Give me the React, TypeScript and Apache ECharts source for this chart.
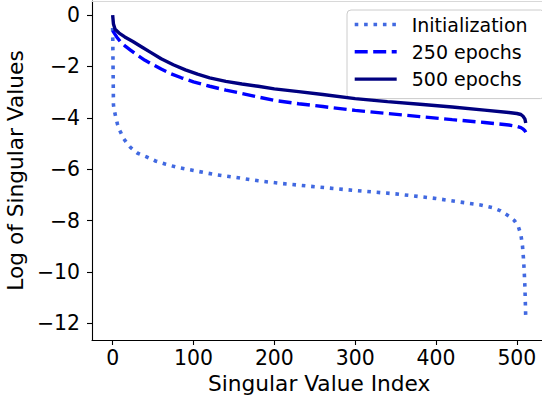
import React, { useEffect, useRef } from "react";
import * as echarts from "echarts";

const xTicks = [0, 100, 200, 300, 400, 500];
const yTicks = [-12, -10, -8, -6, -4, -2, 0];

const initIdx = [0, 1, 2, 4, 6, 9, 13, 18, 22, 31, 42, 53, 65, 80, 100, 125, 150, 180, 210, 250, 300, 350, 400, 430, 455, 470, 480, 490, 497, 502, 505, 507, 508, 509, 510, 511];
const initVals = [-0.5, -3.5, -3.7, -4.0, -4.25, -4.5, -4.78, -5.0, -5.15, -5.38, -5.52, -5.68, -5.8, -5.93, -6.05, -6.2, -6.31, -6.45, -6.56, -6.68, -6.83, -6.96, -7.14, -7.28, -7.39, -7.5, -7.62, -7.82, -8.0, -8.25, -8.55, -9.0, -9.4, -9.9, -10.6, -11.8];

const e250Idx = [0, 2, 5, 10, 16, 22, 30, 40, 50, 60, 72, 85, 100, 120, 140, 160, 180, 200, 230, 260, 300, 340, 380, 420, 460, 490, 500, 505, 508, 510, 511];
const e250Vals = [-0.6, -0.7, -0.85, -1.05, -1.22, -1.36, -1.55, -1.76, -1.93, -2.1, -2.28, -2.44, -2.6, -2.77, -2.92, -3.05, -3.19, -3.32, -3.45, -3.56, -3.71, -3.83, -3.95, -4.07, -4.18, -4.28, -4.33, -4.38, -4.44, -4.5, -4.56];

const e500Idx = [0, 1, 3, 8, 15, 25, 35, 47, 60, 75, 90, 105, 120, 140, 160, 180, 200, 230, 260, 300, 340, 380, 420, 460, 490, 500, 505, 508, 510, 511];
const e500Vals = [0.0, -0.35, -0.55, -0.7, -0.85, -1.03, -1.22, -1.45, -1.7, -1.93, -2.13, -2.3, -2.44, -2.58, -2.68, -2.77, -2.87, -2.98, -3.09, -3.25, -3.37, -3.47, -3.58, -3.7, -3.79, -3.83, -3.87, -3.95, -4.05, -4.2];

const seriesNames = ["Initialization", "250 epochs", "500 epochs"];

const FONT = "DejaVu Sans";

function pairs(xs: number[], ys: number[]) {
  return xs.map((x, i) => [x, ys[i]]);
}

const fmtMinus = (v: number) => (v < 0 ? "\u2212" + Math.abs(v) : String(v));

export default function App() {
  const ref = useRef<HTMLDivElement>(null);
  useEffect(() => {
    if (!ref.current) return;
    const chart = echarts.init(ref.current, undefined, { renderer: "svg" });
    chart.setOption({
      animation: false,
      backgroundColor: "#ffffff",
      grid: { left: 92, top: 1, right: 5.6, bottom: 62, containLabel: false, outerBoundsMode: "none" },
      legend: {
        orient: "vertical",
        left: 347,
        top: 10,
        padding: [5, 17, 10, 6],
        itemWidth: 42,
        itemHeight: 14,
        itemGap: 8.3,
        backgroundColor: "rgba(255,255,255,0.8)",
        borderColor: "#cccccc",
        borderWidth: 1,
        borderRadius: 4,
        itemStyle: { opacity: 0, borderWidth: 0 },
        lineStyle: { width: 3.4 },
        textStyle: { fontFamily: FONT, fontSize: 19, color: "#000", lineHeight: 19, padding: [0, 0, 0, 10] },
        data: seriesNames,
      },
      xAxis: [
        {
          type: "value",
          min: -25.55,
          max: 536.55,
          position: "bottom",
          splitLine: { show: false },
          axisLine: { show: true, onZero: false, lineStyle: { color: "#000", width: 1.1 } },
          axisTick: { show: true, inside: false, length: 5, customValues: xTicks, lineStyle: { color: "#000", width: 1.1 } },
          axisLabel: { customValues: xTicks, margin: 8, fontFamily: FONT, fontSize: 20.4, color: "#000" },
          name: "Singular Value Index",
          nameLocation: "middle",
          nameGap: 31,
          nameTextStyle: { fontFamily: FONT, fontSize: 21.7, color: "#000" },
        },
        {
          type: "value",
          min: -25.55,
          max: 536.55,
          position: "top",
          splitLine: { show: false },
          axisLine: { show: true, onZero: false, lineStyle: { color: "#d8d8d8", width: 1 } },
          axisTick: { show: false },
          axisLabel: { show: false },
        },
      ],
      yAxis: {
        type: "value",
        min: -12.65,
        max: 0.55,
        splitLine: { show: false },
        axisLine: { show: true, onZero: false, lineStyle: { color: "#000", width: 1.1 } },
        axisTick: { show: true, inside: false, length: 5, customValues: yTicks, lineStyle: { color: "#000", width: 1.1 } },
        axisLabel: { customValues: yTicks, margin: 12, fontFamily: FONT, fontSize: 20.4, color: "#000", formatter: fmtMinus },
        name: "Log of Singular Values",
        nameLocation: "middle",
        nameGap: 60,
        nameTextStyle: { fontFamily: FONT, fontSize: 21.7, color: "#000" },
      },
      series: [
        {
          name: seriesNames[0],
          type: "line",
          xAxisIndex: 0,
          data: pairs(initIdx, initVals),
          symbol: "none",
          color: "#4169e1",
          lineStyle: { color: "#4169e1", width: 3.6, type: [3.6, 5.8], cap: "butt" },
          z: 2,
        },
        {
          name: seriesNames[1],
          type: "line",
          xAxisIndex: 0,
          data: pairs(e250Idx, e250Vals),
          symbol: "none",
          color: "#0000ff",
          lineStyle: { color: "#0000ff", width: 3.4, type: [13, 5.5], cap: "butt" },
          z: 3,
        },
        {
          name: seriesNames[2],
          type: "line",
          xAxisIndex: 0,
          data: pairs(e500Idx, e500Vals),
          symbol: "none",
          color: "#000080",
          lineStyle: { color: "#000080", width: 3.4, type: "solid" },
          z: 4,
        },
      ],
    });
    return () => chart.dispose();
  }, []);
  return (
    <div style={{ position: "fixed", left: 0, top: 0, width: 542, height: 402, overflow: "hidden", background: "#fff" }}>
      <div ref={ref} style={{ width: 552, height: 402 }} />
    </div>
  );
}
